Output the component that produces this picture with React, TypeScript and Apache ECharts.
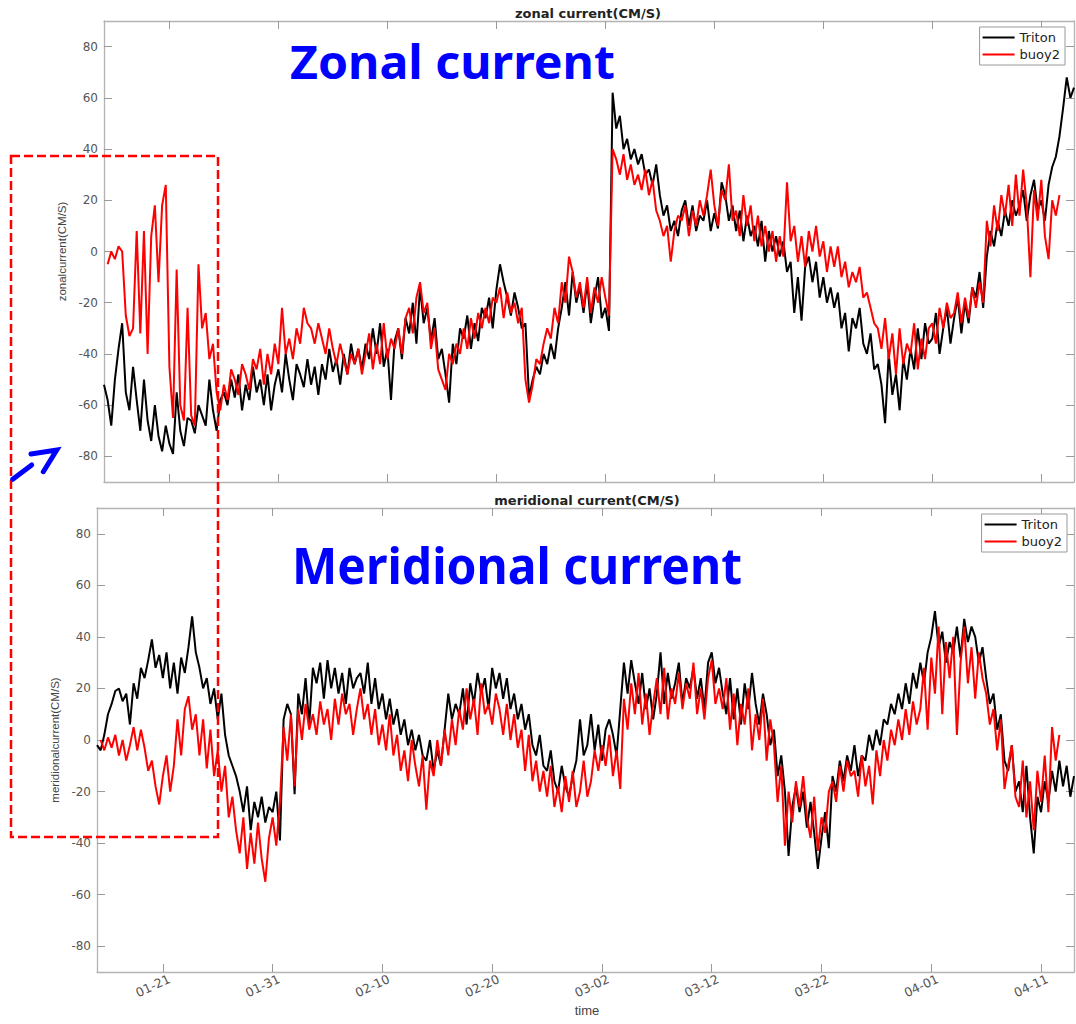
import React, { useEffect, useRef } from "react";
import * as echarts from "echarts";

// ---- time axis (day of year, 0 = Jan 01; non-leap year) ----
const STEP = 1 / 3; // 8-hourly samples
const TRITON_START = 14; // Jan 15 00:00
const BUOY_START = 14 + 1 / 3;
const X_MIN = 14;
const X_MAX = 103;
const tickDays = [20, 30, 40, 50, 60, 70, 80, 90, 100];
const tickLabels = ["01-21", "01-31", "02-10", "02-20", "03-02", "03-12", "03-22", "04-01", "04-11"];
const yTicks = [-80, -60, -40, -20, 0, 20, 40, 60, 80];

// ---- zonal current (CM/S) ----
const tritonZonal = [
  -52, -58, -68, -50, -38, -28, -55, -62, -45, -58, -70, -50,
  -66, -74, -60, -72, -78, -68, -75, -79, -55, -70, -76, -65,
  -66, -71, -60, -64, -68, -50, -62, -70, -58, -55, -60, -50,
  -57, -48, -62, -52, -58, -45, -55, -50, -60, -48, -62, -52,
  -46, -55, -40, -50, -58, -44, -48, -53, -42, -52, -45, -56,
  -44, -50, -38, -47, -42, -52, -40, -48, -36, -44, -38, -46,
  -36, -42, -30, -40, -28, -45, -38, -58, -35, -30, -42, -26,
  -32, -20, -36, -14, -28, -22, -35, -26, -42, -38, -48, -59,
  -36, -44, -30, -34, -25, -38, -28, -35, -22, -26, -18, -30,
  -15, -5, -12, -18, -25, -16, -22, -30, -28, -57, -50, -45,
  -48, -40, -44, -36, -42, -30, -22, -12, -25, -8, -20, -14,
  -24, -12, -28, -18, -10, -26, -22, -31, 62, 48, 53, 40,
  44, 36, 40, 34, 38, 30, 32, 26, 34, 22, 14, 18,
  8, 12, 6, 16, 20, 10, 18, 8, 14, 12, 20, 8,
  15, 9, 27, 22, 12, 18, 8, 16, 4, 14, 6, 10,
  2, 12, -4, 8, 0, 6, -2, 4, -8, -4, -24, -10,
  -27, -6, -2, -12, -4, -18, -10, -20, -14, -22, -16, -30,
  -24, -39, -26, -30, -22, -36, -40, -32, -46, -44, -52, -67,
  -40, -56, -48, -62, -42, -50, -38, -46, -30, -42, -28, -36,
  -34, -24, -40, -30, -22, -36, -26, -18, -32, -20, -28, -14,
  -18, -8, -22, -2, 8, 2, 12, 6, 16, 10, 20, 14,
  18, 24, 12, 22, 28, 16, 20, 12, 26, 33, 37, 45,
  56, 68, 60, 64,
];

const buoyZonal = [
  -5, 0, -3, 2, 0, -25, -33, -30, 8, -32, 8,
  -40, 6, 18, -12, 18, 26, -45, -65, -7, -60, -66, -22,
  -64, -68, -5, -30, -24, -42, -36, -55, -62, -52, -58, -46,
  -50, -56, -44, -48, -54, -42, -46, -38, -52, -40, -48, -36,
  -44, -22, -40, -34, -42, -30, -36, -22, -28, -30, -36, -28,
  -34, -40, -30, -38, -44, -36, -42, -48, -40, -44, -38, -48,
  -40, -32, -46, -36, -44, -28, -42, -34, -38, -30, -40, -26,
  -22, -32, -18, -12, -24, -20, -38, -30, -46, -50, -54, -40,
  -44, -36, -40, -30, -38, -26, -34, -24, -30, -22, -28, -18,
  -20, -14, -26, -16, -24, -20, -28, -22, -50, -59, -52, -42,
  -44, -36, -30, -34, -22, -28, -12, -20, -2, -8, -18, -12,
  -22, -10, -24, -14, -20, -10, -18, -25, 40, 36, 30, 38,
  28, 34, 26, 30, 24, 32, 22, 28, 16, 12, 6, 10,
  -4, 8, 14, 12, 18, 6, 16, 10, 20, 14, 22, 32,
  18, 10, 24, 20, 34, 12, 16, 6, 22, 10, 18, 4,
  14, 2, 10, 0, 8, -4, 6, -2, 27, 4, 10, -4,
  6, -6, 8, 0, 10, -2, 4, -8, 2, -6, 2, -10,
  -4, -14, -8, -12, -6, -18, -16, -22, -28, -30, -38, -26,
  -42, -32, -48, -30, -44, -36, -40, -28, -46, -34, -42, -30,
  -28, -36, -22, -30, -20, -26, -24, -16, -28, -18, -26, -14,
  -22, -12, -20, 12, 2, 18, 8, 22, 14, 26, 10, 30,
  14, 32, 18, -10, 24, 12, 28, 6, -3, 20, 14, 22,
];

// ---- meridional current (CM/S) ----
const tritonMerid = [
  -2, -4, 2, 10, 14, 19, 20, 15, 18, 6, 22, 16,
  28, 24, 31, 39, 28, 33, 24, 34, 20, 30, 18, 32,
  26, 36, 48, 34, 28, 20, 24, 14, 20, 8, 18, 2,
  -6, -10, -14, -20, -28, -18, -35, -24, -30, -22, -32, -26,
  -28, -20, -39, 8, 14, 10, -21, 18, 10, 24, 6, 28,
  22, 30, 16, 31, 20, 28, 18, 26, 14, 28, 20, 24,
  26, 18, 30, 14, 24, 12, 18, 8, 16, 6, 12, 2,
  8, -2, 4, -4, 2, -6, -8, 0, -12, -4, -10, 4,
  18, 8, 14, 10, 20, 6, 22, 14, 26, 18, 24, 12,
  28, 20, 26, 16, 24, 12, 18, 8, 14, 4, 10, -2,
  -6, 2, -10, -12, -4, -16, -20, -10, -18, -22, -14, -8,
  8, -6, -2, 10, -4, 6, -8, 4, 8, 2, -6, 12,
  30, 18, 31, 22, 14, 26, 12, 20, 8, 18, 34, 14,
  26, 16, 22, 30, 14, 24, 20, 28, 16, 24, 12, 30,
  34, 22, 28, 18, 10, 24, 8, 20, 6, 22, 12, 26,
  14, 6, 18, 10, -2, 4, -14, -6, -20, -45, -26, -18,
  -28, -20, -34, -24, -36, -50, -38, -28, -42, -14, -20, -8,
  -16, -6, -12, -2, -14, -6, -8, 2, -4, 4, -2, 8,
  6, 14, 10, 18, 12, 22, 14, 26, 20, 30, 22, 34,
  40, 50, 36, 42, 30, 38, 34, 44, 32, 47, 38, 44,
  40, 30, 36, 24, 14, 18, 4, 10, -8, -12, -2, -20,
  -16, -28, -10, -30, -44, -22, -28, -16, -24, -12, -20, -8,
  -18, -10, -22, -14,
];

const buoyMerid = [
  0, -4, 1, -3, 2, -6, 0, -8, -2, 5, -4,
  4, -3, -12, -8, -18, -25, -14, -6, -20, -10, 8, -6,
  12, 17, 4, 10, -6, 8, -11, 4, -14, -4, -20, -10,
  -30, -22, -35, -44, -30, -50, -36, -48, -32, -46, -55, -38,
  -30, -41, -24, 5, -8, 10, -18, 12, 0, 14, 4, 10,
  2, 15, 6, 12, 0, 16, 6, 18, 10, 14, 2, 12,
  20, 8, 14, 2, 12, -2, 6, -4, 10, -6, 2, -12,
  -4, -16, 0, -10, -18, -6, -27, -8, -14, 0, -10, 4,
  -6, 8, -2, 12, 4, 20, 8, 16, 2, 22, 10, 14,
  6, 18, 12, 2, 14, 0, 10, -3, 4, -12, 2, -16,
  -8, -20, -12, -22, -10, -26, -18, -28, -14, -24, -12, -26,
  -20, -8, -22, -16, -4, -12, -2, -10, 2, -14, -4, -19,
  16, 4, 22, 10, 26, 6, 18, 2, 14, 24, 10, 28,
  8, 20, 14, 26, 12, 22, 16, 30, 10, 20, 8, 24,
  31, 14, 20, 12, 24, 4, 18, -2, 14, 6, 20, -4,
  10, 0, 16, -8, 8, -2, -24, -10, -41, -20, -32, -16,
  -26, -14, -30, -38, -22, -43, -30, -36, -20, -16, -24, -10,
  -20, -8, -14, -12, -22, -6, -18, -10, -25, -4, -14, 0,
  -8, 4, -2, 8, 0, 12, 2, 15, 6, 12, 28, 4,
  32, 18, 44, 10, 38, 24, 40, 2, 30, 44, 22, 36,
  16, 34, 24, 18, 6, 12, -4, 8, -19, -10, -2, -22,
  -26, -8, -30, -16, -35, -12, -24, -6, -28, 5, -8, 2,
];

function toPairs(start: number, values: number[]) {
  return values.map((v, i) => [start + i * STEP, v]);
}

const FONT = "DejaVu Sans";
const AXIS_LINE = { onZero: false, lineStyle: { color: "#b3b3b3", width: 1.3 } };
const TICK = (values: number[]) => ({
  show: true,
  inside: true,
  length: 8,
  customValues: values,
  lineStyle: { color: "#9a9a9a", width: 1 },
});

function xAxes(gridIndex: number, withLabels: boolean) {
  const base = { gridIndex, type: "value", min: X_MIN, max: X_MAX, splitLine: { show: false }, axisLine: AXIS_LINE };
  return [
    {
      ...base,
      position: "bottom",
      axisTick: TICK(tickDays),
      axisLabel: withLabels
        ? {
            show: true,
            customValues: tickDays,
            rotate: 25,
            margin: 9,
            padding: [0, -7, 0, 0],
            fontFamily: FONT,
            fontSize: 12.5,
            color: "#555",
            formatter: (v: number) => {
              const k = tickDays.indexOf(Math.round(v));
              return k >= 0 ? tickLabels[k] : "";
            },
          }
        : { show: false },
    },
    { ...base, position: "top", axisTick: TICK(tickDays), axisLabel: { show: false } },
  ];
}

function yAxes(gridIndex: number, name: string) {
  const base = { gridIndex, type: "value", min: -90, max: 90, splitLine: { show: false }, axisLine: AXIS_LINE };
  return [
    {
      ...base,
      position: "left",
      name,
      nameLocation: "middle",
      nameGap: 30,
      nameTextStyle: { fontFamily: "Liberation Sans", fontSize: 11.5, color: "#444" },
      axisTick: TICK(yTicks),
      axisLabel: {
        show: true,
        customValues: yTicks,
        margin: 6,
        fontFamily: FONT,
        fontSize: 12,
        color: "#555",
        formatter: (v: number) => String(v),
      },
    },
    { ...base, position: "right", axisTick: TICK(yTicks), axisLabel: { show: false } },
  ];
}

function legendAt(top: number, right: number) {
  return {
    top,
    right,
    orient: "vertical",
    data: ["Triton", "buoy2"],
    selectedMode: false,
    icon: "rect",
    padding: [3, 5, 3, 3],
    itemGap: 2,
    itemWidth: 32,
    itemHeight: 2,
    borderColor: "#9a9a9a",
    borderWidth: 1,
    backgroundColor: "#fff",
    textStyle: { fontFamily: FONT, fontSize: 13, color: "#222", lineHeight: 15 },
  };
}

function lineSeries(name: string, color: string, axis: number, data: number[][], z: number) {
  return {
    name,
    type: "line",
    xAxisIndex: axis,
    yAxisIndex: axis,
    data,
    symbol: "none",
    showSymbol: false,
    z,
    lineStyle: { color, width: 2 },
    itemStyle: { color },
  };
}

function fitScale(text: string, font: string, target: number) {
  const ctx = document.createElement("canvas").getContext("2d");
  if (!ctx) return 1;
  ctx.font = font;
  const w = ctx.measureText(text).width;
  return w > 0 ? target / w : 1;
}

export default function App() {
  const ref = useRef<HTMLDivElement>(null);

  useEffect(() => {
    if (!ref.current) return;
    const chart = echarts.init(ref.current, null, { renderer: "svg" });

    const zonalFont = 'bold 47px "Noto Sans"';
    const meridFont = 'bold 51px "Noto Sans"';
    const zonalScale = fitScale("Zonal current", zonalFont, 325);
    const meridScale = fitScale("Meridional current", meridFont, 450);

    const option: any = {
      animation: false,
      backgroundColor: "#fff",
      textStyle: { fontFamily: FONT },
      grid: [
        { left: 104, top: 21, width: 970, height: 461 },
        { left: 97, top: 508, width: 977, height: 464 },
      ],
      xAxis: [...xAxes(0, false), ...xAxes(1, true)],
      yAxis: [...yAxes(0, "zonalcurrent(CM/S)"), ...yAxes(1, "meridionalcurrent(CM/S)")],
      legend: [legendAt(27, 11), legendAt(514, 9)],
      series: [
        lineSeries("Triton", "#000000", 0, toPairs(TRITON_START, tritonZonal), 2),
        lineSeries("buoy2", "#ff0000", 0, toPairs(BUOY_START, buoyZonal), 3),
        lineSeries("Triton", "#000000", 2, toPairs(TRITON_START, tritonMerid), 2),
        lineSeries("buoy2", "#ff0000", 2, toPairs(BUOY_START, buoyMerid), 3),
      ],
      graphic: [
        {
          type: "text",
          x: 588,
          y: 13,
          style: { text: "zonal current(CM/S)", fontFamily: FONT, fontWeight: "bold", fontSize: 13, fill: "#222", textAlign: "center", textVerticalAlign: "middle", verticalAlign: "middle" },
        },
        {
          type: "text",
          x: 587,
          y: 500,
          style: { text: "meridional current(CM/S)", fontFamily: FONT, fontWeight: "bold", fontSize: 13, fill: "#222", textAlign: "center", textVerticalAlign: "middle", verticalAlign: "middle" },
        },
        {
          type: "text",
          x: 587,
          y: 1010,
          style: { text: "time", fontFamily: "Liberation Sans", fontSize: 13, fill: "#444", textAlign: "center", textVerticalAlign: "middle", verticalAlign: "middle" },
        },
        {
          type: "text",
          x: 290,
          y: 61,
          scaleX: zonalScale,
          z: 50,
          style: { text: "Zonal current", fontFamily: "Noto Sans", fontWeight: "bold", fontSize: 47, fill: "#0000ff", textAlign: "left", textVerticalAlign: "middle", verticalAlign: "middle" },
        },
        {
          type: "text",
          x: 292,
          y: 564,
          scaleX: meridScale,
          z: 50,
          style: { text: "Meridional current", fontFamily: "Noto Sans", fontWeight: "bold", fontSize: 51, fill: "#0000ff", textAlign: "left", textVerticalAlign: "middle", verticalAlign: "middle" },
        },
        {
          type: "rect",
          z: 60,
          shape: { x: 11, y: 156, width: 207, height: 681 },
          style: { fill: "none", stroke: "#ff0000", lineWidth: 2.5, lineDash: [9, 4] },
        },
        {
          type: "line",
          z: 60,
          shape: { x1: 12.7, y1: 479.3, x2: 31.7, y2: 465 },
          style: { stroke: "#0000ff", lineWidth: 5, lineCap: "round" },
        },
        {
          type: "polyline",
          z: 60,
          shape: { points: [[31, 454], [56.7, 450], [43.3, 471.7]] },
          style: { fill: "none", stroke: "#0000ff", lineWidth: 5, lineCap: "round", lineJoin: "miter" },
        },
      ],
    };

    chart.setOption(option);
    return () => chart.dispose();
  }, []);

  return <div ref={ref} style={{ position: "absolute", left: 0, top: 0, width: 1076, height: 1024 }} />;
}
